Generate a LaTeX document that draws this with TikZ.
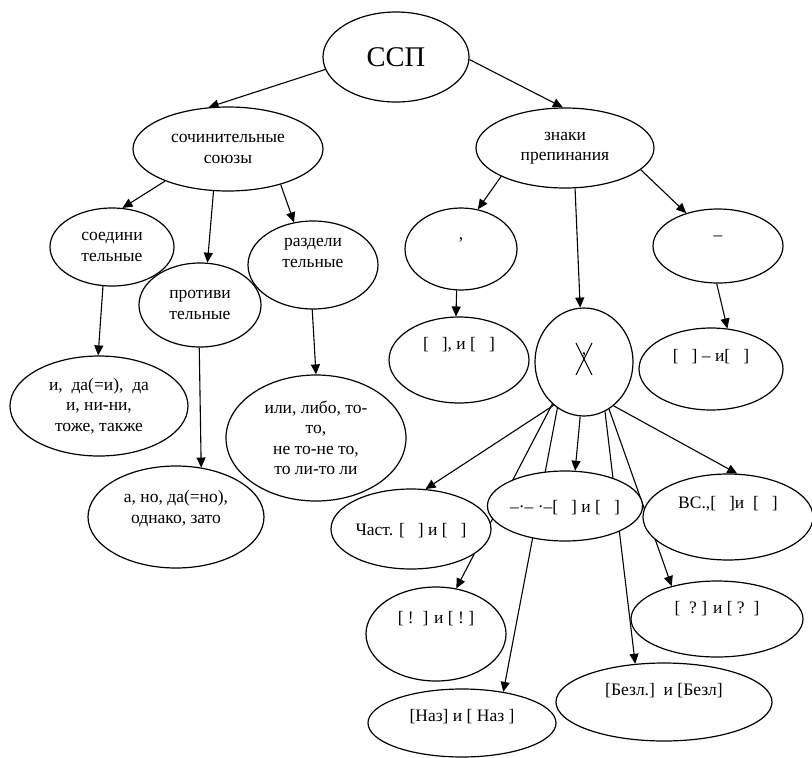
\documentclass[tikz,border=0pt]{standalone}
\usepackage{fontspec}
\setmainfont{Liberation Serif}
\usetikzlibrary{arrows.meta}
\usetikzlibrary{shapes.geometric}
\usetikzlibrary{backgrounds}
\newcommand{\emptyslot}{\hspace*{13pt}}

\begin{document}
\begin{tikzpicture}[x = 1pt, y = -1pt]
\tikzstyle{ovalStyle} = [shape = ellipse, draw, fill = white, line width = 1.2pt, inner sep = 0pt, align = center, font = \fontsize{17.5}{20.5}\selectfont]
\tikzstyle{lineStyle} = [ovalStyle, text height = 12pt]
\tikzstyle{arrowStyle} = [line width = 1.1pt, -{Triangle[length = 10pt, width = 9pt]}]
\useasboundingbox (0,0) rectangle (812,758);
\node[ovalStyle, minimum width = 146, minimum height = 90, font = \fontsize{28.5}{30}\selectfont] (ssp) at (396,57) {ССП};
\node[ovalStyle, minimum width = 190, minimum height = 84] (soch) at (228,149) {сочинительные\\союзы};
\node[ovalStyle, minimum width = 178, minimum height = 80] (znaki) at (565,148) {знаки\\препинания};
\node[ovalStyle, minimum width = 124, minimum height = 78] (soed) at (112,247) {соедини\\тельные};
\node[ovalStyle, minimum width = 122, minimum height = 84] (protiv) at (200,305) {противи\\тельные};
\node[ovalStyle, minimum width = 130, minimum height = 88] (razdel) at (313,265) {раздели\\тельные\\[4pt]\mbox{}};
\node[ovalStyle, minimum width = 178, minimum height = 100] (soedEx) at (99,406) {и,\ \ да(=и),\ \ да\\и, ни-ни,\\тоже, также};
\node[ovalStyle, minimum width = 180, minimum height = 126] (razdelEx) at (316,438) {или, либо, то-\\то,\\не то-не то,\\то ли-то ли};
\node[ovalStyle, minimum width = 176, minimum height = 102] (protivEx) at (176,517) {а, но, да(=но),\\однако, зато\\\mbox{}};
\node[lineStyle, minimum width = 112, minimum height = 82, text depth = 32pt] (comma) at (461,249) {,};
\node[lineStyle, minimum width = 130, minimum height = 74, text depth = 24pt] (dash) at (718,246) {–};
\node[lineStyle, minimum width = 140, minimum height = 86, text depth = 34pt] (commaEx) at (459,360) {[\emptyslot], и [\emptyslot]};
\node[lineStyle, minimum width = 98, minimum height = 108, text depth = 28pt] (nocomma) at (584,362) {,};
\node[lineStyle, minimum width = 144, minimum height = 82, text depth = 28pt] (dashEx) at (711,369) {[\emptyslot] – и[\emptyslot]};
\node[lineStyle, minimum width = 160, minimum height = 80, text depth = 0pt] (chast) at (411,529) {Част. [\emptyslot] и [\emptyslot]};
\node[lineStyle, minimum width = 152, minimum height = 70, text depth = 0pt] (ob) at (565,506) {–·– ·–[\emptyslot] и [\emptyslot]};
\node[lineStyle, minimum width = 170, minimum height = 86, text depth = 30pt] (vs) at (728,517) {ВС.,[\emptyslot]и\ \ [\emptyslot]};
\node[lineStyle, minimum width = 140, minimum height = 94, text depth = 34pt] (excl) at (436,634) {[\ !\ \ ] и [\ !\ ]};
\node[lineStyle, minimum width = 172, minimum height = 76, text depth = 24pt] (quest) at (717,619) {[\ \ ?\ ] и [\ ?\ \ ]};
\node[lineStyle, minimum width = 188, minimum height = 68, text depth = 16pt] (naz) at (462,723) {[Наз] и [ Наз ]};
\node[lineStyle, minimum width = 216, minimum height = 78, text depth = 26pt] (bezl) at (664,702) {[Безл.]\ \ и [Безл]};
\draw[line width = 1pt] ([shift = {(-8,-19)}]nocomma.center) -- ([shift = {(8,13)}]nocomma.center);
\draw[line width = 1pt] ([shift = {(8,-19)}]nocomma.center) -- ([shift = {(-8,13)}]nocomma.center);
\begin{scope}[on background layer]
\draw[arrowStyle] (ssp.190) -- (soch.115);
\draw[arrowStyle] (ssp.358) -- (znaki.93);
\draw[arrowStyle] (soch.207) -- (soed.75);
\draw[arrowStyle] (soch.251) -- (protiv.80);
\draw[arrowStyle] (soch.326) -- (razdel.114);
\draw[arrowStyle] (soed.257) -- (soedEx.91);
\draw[arrowStyle] (protiv.269) -- (protivEx.63);
\draw[arrowStyle] (razdel.269) -- (razdelEx.90);
\draw[arrowStyle] (znaki.204) -- (comma.67);
\draw[arrowStyle] (znaki.284) -- (nocomma.94);
\draw[arrowStyle] (znaki.344) -- (dash.134);
\draw[arrowStyle] (comma.264) -- (commaEx.94);
\draw[arrowStyle] (dash.268) -- (dashEx.68);
\draw[arrowStyle] (nocomma.235) -- (chast.70);
\draw[arrowStyle] (nocomma.266) -- (ob.74);
\draw[arrowStyle] (nocomma.304) -- (vs.78);
\draw[arrowStyle] (nocomma.233) -- (excl.66);
\draw[arrowStyle] (nocomma.240) -- (naz.37);
\draw[arrowStyle] (nocomma.293) -- (bezl.127);
\draw[arrowStyle] (nocomma.298) -- (quest.144);
\end{scope}
\end{tikzpicture}
\end{document}
